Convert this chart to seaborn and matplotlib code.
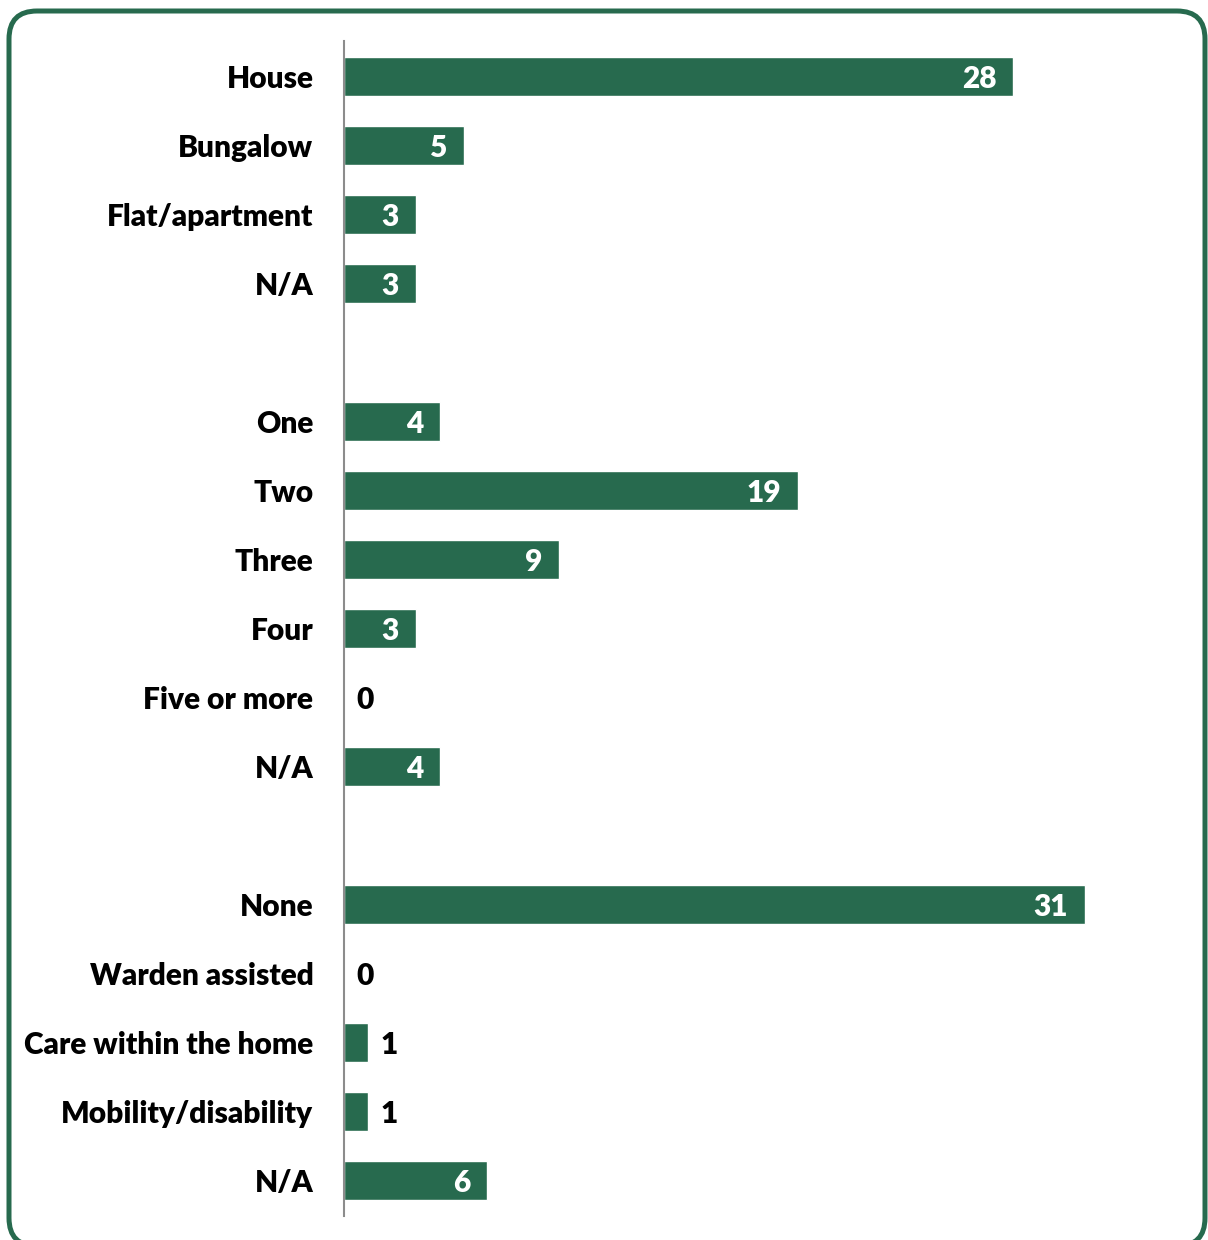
import matplotlib
matplotlib.use("Agg")
import matplotlib.pyplot as plt
from matplotlib.patches import FancyBboxPatch
from matplotlib.transforms import IdentityTransform
import seaborn as sns
import pandas as pd

# Row labels in display order; empty strings separate the three question groups
labels = ["House", "Bungalow", "Flat/apartment", "N/A", "",
          "One", "Two", "Three", "Four", "Five or more", "N/A", "",
          "None", "Warden assisted", "Care within the home", "Mobility/disability", "N/A"]
values = [28, 5, 3, 3, None,
          4, 19, 9, 3, 0, 4, None,
          31, 0, 1, 1, 6]

GREEN = "#276A4E"
FS = 21.5

sns.set_theme(style="white")
plt.rcParams["font.family"] = ["Lato", "DejaVu Sans"]
plt.rcParams["font.weight"] = "heavy"

slots = [str(i) for i in range(len(labels))]
df = pd.DataFrame({"slot": slots, "value": values}).dropna()

fig = plt.figure(figsize=(12.08, 12.40), dpi=100)
W, H = 1208, 1240
ax = fig.add_axes([344 / W, 1 - 1215.5 / H, (1180.5 - 344) / W, (1215.5 - 41.5) / H])

sns.barplot(data=df, x="value", y="slot", order=slots, orient="h",
            color=GREEN, saturation=1, width=0.565, errorbar=None, ax=ax)

ax.set_xlim(0, 35)
ax.set_ylim(len(labels) - 0.5, -0.5)
ax.set_xlabel("")
ax.set_ylabel("")
ax.set_xticks([])
ax.set_yticks(range(len(labels)))
ax.set_yticklabels(labels, fontsize=FS, fontweight="heavy", color="black")
ax.tick_params(axis="y", length=0, pad=22)
for side in ["top", "right", "bottom"]:
    ax.spines[side].set_visible(False)
ax.spines["left"].set_color("#8c8c8c")
ax.spines["left"].set_linewidth(1.5)
ax.patch.set_alpha(0)

# Value labels: white inside longer bars, black just past short ones
for i, v in enumerate(values):
    if v is None:
        continue
    if v >= 3:
        ax.annotate(f"{v:g}", xy=(v, i), xytext=(-12, 0), textcoords="offset points",
                    ha="right", va="center_baseline", color="white",
                    fontsize=FS, fontweight="heavy")
    else:
        ax.annotate(f"{v:g}", xy=(v, i), xytext=(9, 0), textcoords="offset points",
                    ha="left", va="center_baseline", color="black",
                    fontsize=FS, fontweight="heavy")

# Rounded green frame around the whole chart
frame = FancyBboxPatch((9, -6), 1196, 1235, boxstyle="round,pad=0,rounding_size=28",
                       transform=IdentityTransform(), facecolor="none",
                       edgecolor=GREEN, linewidth=3.6)
fig.patches.append(frame)

fig.savefig("out.png", dpi=100, facecolor="white")
